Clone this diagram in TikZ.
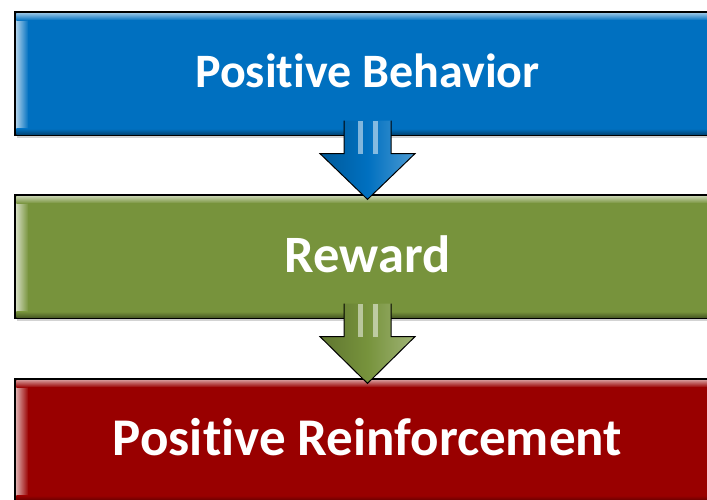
\documentclass[tikz,border=0pt]{standalone}
\usepackage{fontspec}
\setmainfont{Carlito}[Ligatures=NoCommon]
\usetikzlibrary{shadows,fadings}
\definecolor{cblue}{HTML}{0070C0}
\definecolor{cgreen}{HTML}{77933C}
\definecolor{cred}{HTML}{990000}
\tikzset{
  stagebox/.style={draw=black, line width=1.2pt, minimum width=705pt, minimum height=123pt,
    inner sep=0pt, text=white,
    drop shadow={opacity=0.35, shadow xshift=2pt, shadow yshift=-3pt}},
  stagetext/.style={text=white, inner sep=0pt, font=\bfseries\fontsize{#1}{#1}\selectfont},
  flowarrow/.style={draw=black, line width=1pt}
}
\newcommand{\myBevel}[2]{%
  \shade[left color=#2!35!white, right color=#2] ([xshift=2pt,yshift=-4pt]#1.north west) rectangle ([xshift=14pt,yshift=4pt]#1.south west);
  \shade[top color=#2!45!white, bottom color=#2] ([xshift=2pt,yshift=-2pt]#1.north west) rectangle ([xshift=-2pt,yshift=-9pt]#1.north east);
  \shade[bottom color=#2!60!black, top color=#2] ([xshift=2pt,yshift=7pt]#1.south west) rectangle ([xshift=-2pt,yshift=1pt]#1.south east);
  \fill[#2] ([xshift=14pt,yshift=-9pt]#1.north west) rectangle ([xshift=-2pt,yshift=7pt]#1.south east);
}
\newcommand{\myDownArrow}[3]{%
  \coordinate (t) at ([yshift=15pt]#1.south);
  \coordinate (h) at ([yshift=-18pt]#1.south);
  \coordinate (p) at ([yshift=-5pt]#2.north);
  \draw[flowarrow, left color=#3!80!black, right color=#3!70!white, middle color=#3]
    ([xshift=-23.5pt]t) -- ([xshift=-23.5pt]h) -- ([xshift=-47.5pt]h) -- (p)
    -- ([xshift=47.5pt]h) -- ([xshift=23.5pt]h) -- ([xshift=23.5pt]t);
  \fill[white, opacity=0.5] ([xshift=-10pt]t) rectangle ([xshift=-5pt]h);
  \fill[white, opacity=0.5] ([xshift=5pt]t) rectangle ([xshift=10pt]h);
}
\begin{document}
\begin{tikzpicture}[x=1pt,y=-1pt]
\useasboundingbox (0,0) rectangle (707,500);
\clip (0,0) rectangle (707,500);
\node[stagebox, fill=cblue] (b1) at (367.5,73.5) {};
\node[stagebox, fill=cgreen] (b2) at (367.5,256.5) {};
\node[stagebox, fill=cred] (b3) at (367.5,440.5) {};
\myBevel{b1}{cblue}
\myBevel{b2}{cgreen}
\myBevel{b3}{cred}
\draw[black, line width=1.2pt] (b1.north west) rectangle (b1.south east);
\draw[black, line width=1.2pt] (b2.north west) rectangle (b2.south east);
\draw[black, line width=1.2pt] (b3.north west) rectangle (b3.south east);
\node[stagetext=48, anchor=base] (l1) at ([yshift=-14.5pt]b1.center) {Positive Behavior};
\node[stagetext=52.5, anchor=base] (l2) at ([yshift=-15.5pt]b2.center) {Reward};
\node[stagetext=53, anchor=base] (l3) at ([yshift=-15pt]b3.center) {Positive Reinforcement};
\myDownArrow{b1}{b2}{cblue}
\myDownArrow{b2}{b3}{cgreen}
\end{tikzpicture}
\end{document}
